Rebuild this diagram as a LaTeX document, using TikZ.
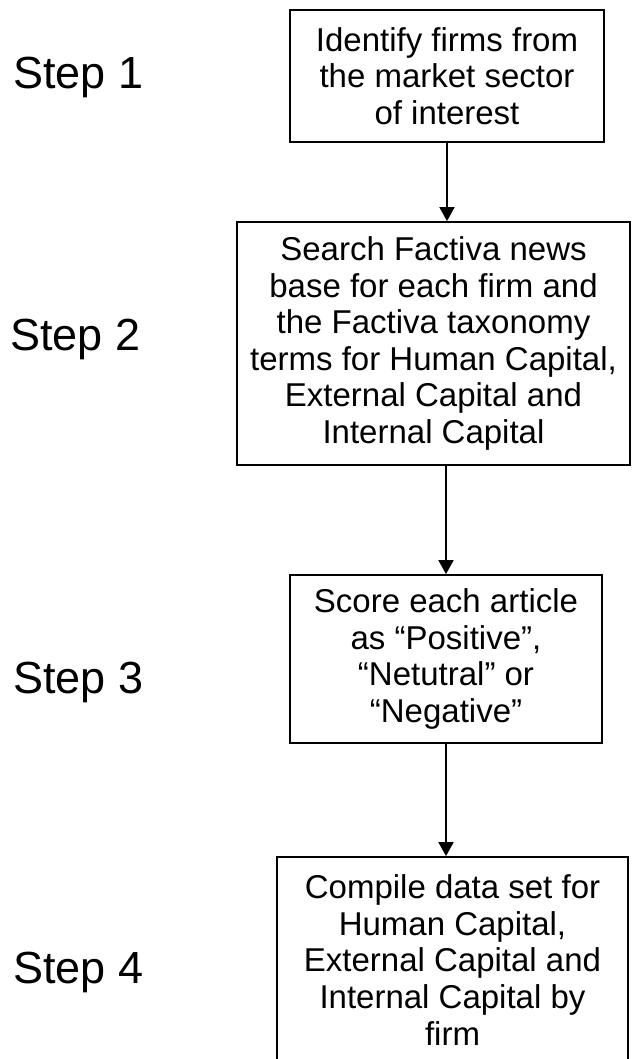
\documentclass[tikz,border=0pt]{standalone}
\usepackage{fontspec}
\setmainfont{Liberation Sans}
\usetikzlibrary{arrows.meta}
\begin{document}
\begin{tikzpicture}[x=1pt,y=-1pt,
  stepbox/.style={draw=black,line width=1.8pt,rectangle,inner sep=0pt,align=center,
    font=\fontsize{33}{36.6}\selectfont},
  steplabel/.style={anchor=base west,inner sep=0pt,font=\fontsize{45}{54}\selectfont},
  arr/.style={line width=1.8pt,-{Triangle[width=15pt,length=14pt]}}]
\useasboundingbox (0,0) rectangle (632,1059);
\begin{scope}
\clip (0,0) rectangle (632,1059);
\node[stepbox,minimum width=314pt,minimum height=132pt] (b1) at (447,76)
  {Identify firms from\\the market sector\\of interest};
\node[stepbox,minimum width=393pt,minimum height=243pt] (b2) at (433.5,343.5)
  {Search Factiva news\\base for each firm and\\the Factiva taxonomy\\terms for Human Capital,\\External Capital and\\Internal Capital};
\node[stepbox,minimum width=312pt,minimum height=168pt] (b3) at (446,659)
  {Score each article\\as “Positive”,\\“Netutral” or\\“Negative”};
\node[stepbox,minimum width=351pt,minimum height=206pt] (b4) at (452.5,960)
  {Compile data set for\\Human Capital,\\External Capital and\\Internal Capital by\\firm};
\end{scope}
\node[steplabel] (s1) at (13,89) {Step 1};
\node[steplabel] (s2) at (10,350) {Step 2};
\node[steplabel] (s3) at (13,693) {Step 3};
\node[steplabel] (s4) at (13,983) {Step 4};
\draw[arr] (b1.south) -- (b1.south |- b2.north);
\draw[arr] (b3.north |- b2.south) -- (b3.north);
\draw[arr] (b3.south) -- (b3.south |- b4.north);
\end{tikzpicture}
\end{document}
